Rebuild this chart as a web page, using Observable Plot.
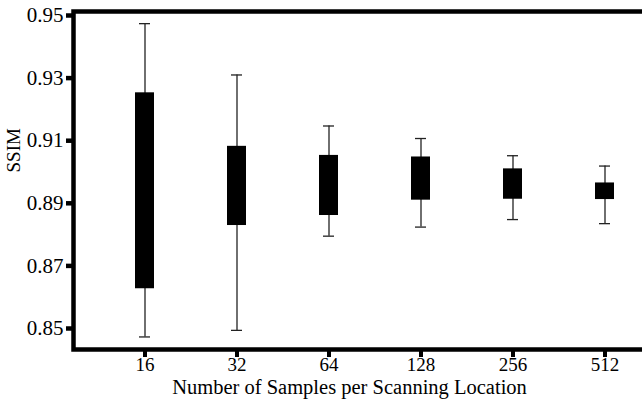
<!DOCTYPE html>
<html>
<head>
<meta charset="utf-8">
<script src="https://cdn.jsdelivr.net/npm/d3@7"></script>
<script src="https://cdn.jsdelivr.net/npm/@observablehq/plot@0.6"></script>
<style>
  html, body { margin: 0; padding: 0; background: #fff; overflow: hidden; }
  #chart { width: 642px; height: 403px; overflow: hidden; }
  #chart svg { display: block; background: #fff; max-width: none !important; width: 700px !important; height: 403px !important; }
</style>
</head>
<body>
<div id="chart"></div>
<script>
const samples = ["16", "32", "64", "128", "256", "512"];
const whiskerHigh = [0.9474, 0.9310, 0.9147, 0.9107, 0.9052, 0.9019];
const boxTop      = [0.9253, 0.9082, 0.9053, 0.9048, 0.9010, 0.8965];
const boxBottom   = [0.8627, 0.8829, 0.8861, 0.8910, 0.8913, 0.8912];
const whiskerLow  = [0.8473, 0.8494, 0.8795, 0.8824, 0.8848, 0.8835];
const yTicks = [0.85, 0.87, 0.89, 0.91, 0.93, 0.95];
const xTitle = "Number of Samples per Scanning Location";
const yTitle = "SSIM";

const rows = samples.map((s, i) => ({
  s, hi: whiskerHigh[i], q3: boxTop[i], q1: boxBottom[i], lo: whiskerLow[i]
}));

const font = "'Liberation Serif', 'Times New Roman', serif";

const chart = Plot.plot({
  width: 700,
  height: 403,
  marginLeft: 73,
  marginRight: 25,
  marginTop: 11,
  marginBottom: 54,
  style: {fontFamily: font, background: "#fff", color: "#000", maxWidth: "none"},
  x: {domain: samples, type: "band", paddingInner: 0.7935, paddingOuter: 0.668},
  y: {domain: [0.84329, 0.95128]},
  marks: [
    Plot.ruleX(rows, {x: "s", y1: "lo", y2: "hi", stroke: "#222", strokeWidth: 1.3}),
    Plot.tickY(rows, {x: "s", y: "hi", stroke: "#222", strokeWidth: 1.3, inset: 4}),
    Plot.tickY(rows, {x: "s", y: "lo", stroke: "#222", strokeWidth: 1.3, inset: 4}),
    Plot.barY(rows, {x: "s", y1: "q1", y2: "q3", fill: "#000"}),
    Plot.frame({stroke: "#000", strokeWidth: 4.5}),
    Plot.axisY({ticks: yTicks, tickFormat: d3.format(".2f"), tickSize: 7, strokeWidth: 4.5,
                tickPadding: 3, fontSize: 21, label: null}),
    Plot.axisX({tickSize: 8, strokeWidth: 4, tickPadding: 0, fontSize: 19, label: null}),
    Plot.text([xTitle], {frameAnchor: "bottom", text: d => d, lineAnchor: "bottom",
                         dx: -25, dy: 44, fontSize: 20.5, fill: "#000"}),
    Plot.text([yTitle], {frameAnchor: "left", text: d => d, rotate: -90,
                         dx: -60, dy: -8, fontSize: 19, fill: "#000"})
  ]
});
document.getElementById("chart").appendChild(chart);
</script>
</body>
</html>
